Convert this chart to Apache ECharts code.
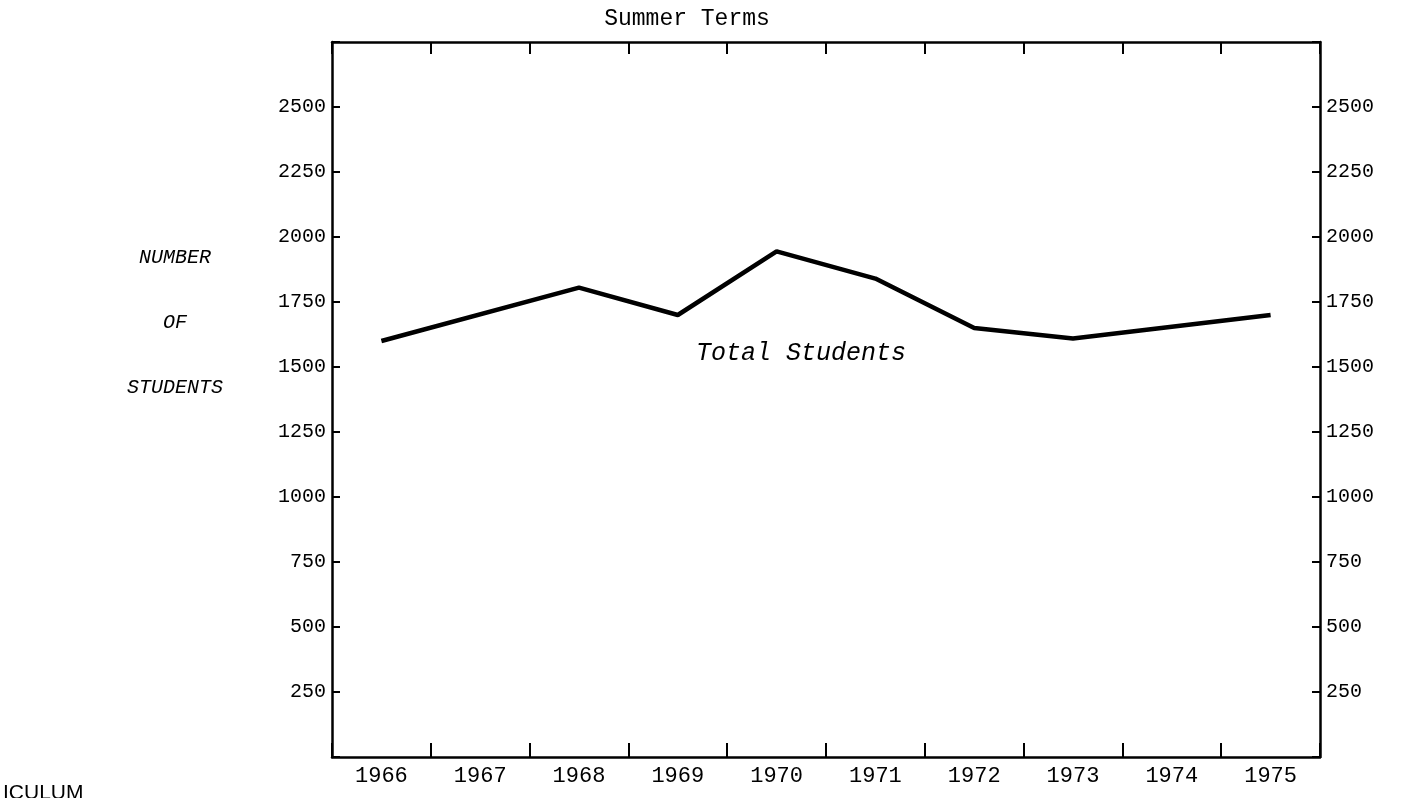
<!DOCTYPE html>
<html>
<head>
<meta charset="utf-8">
<script src="https://cdn.jsdelivr.net/npm/echarts@6/dist/echarts.min.js"></script>
<style>html,body{margin:0;padding:0;background:#fff}#c{width:1416px;height:798px}</style>
</head>
<body>
<div id="c"></div>
<script>
var years = ['1966','1967','1968','1969','1970','1971','1972','1973','1974','1975'];
var totalStudents = [1600, null, 1805, 1700, 1945, 1840, 1650, 1610, null, 1700];
var yTicks = [250, 500, 750, 1000, 1250, 1500, 1750, 2000, 2250, 2500];
var titleText = 'Summer Terms';
var yName = 'NUMBER\nOF\nSTUDENTS';
var seriesLabel = 'Total Students';
var cutText = 'ICULUM';

var mono = '"Liberation Mono", "DejaVu Sans Mono", monospace';
var lineStyle = {color: '#000', width: 2.5};
function yFmt(v){ return yTicks.indexOf(v) >= 0 ? String(v) : ''; }

var chart = echarts.init(document.getElementById('c'));
chart.setOption({
  backgroundColor: '#fff',
  animation: false,
  title: [
    {text: titleText, left: 682, top: 2, textAlign: 'center',
     textStyle: {fontFamily: mono, fontSize: 23, fontWeight: 'normal', color: '#000'}},
    {text: yName, left: 170, top: 220, textAlign: 'center',
     textStyle: {fontFamily: mono, fontSize: 20, fontStyle: 'italic', fontWeight: 'normal', color: '#000', lineHeight: 65, align: 'center'}},
    {text: seriesLabel, left: 796, top: 336, textAlign: 'center',
     textStyle: {fontFamily: mono, fontSize: 25, fontStyle: 'italic', fontWeight: 'normal', color: '#000'}},
    {text: cutText, left: -2, top: 778,
     textStyle: {fontFamily: '"Liberation Sans", Arial, sans-serif', fontSize: 21, fontWeight: 'normal', color: '#000'}}
  ],
  grid: {left: 332, right: 96, top: 42, bottom: 41},
  xAxis: [
    {type: 'category', data: years, position: 'bottom', boundaryGap: true,
     axisLine: {show: true, onZero: false, lineStyle: lineStyle},
     axisTick: {show: true, interval: 0, inside: true, length: 14, lineStyle: {color: '#000', width: 2}},
     axisLabel: {fontFamily: mono, fontSize: 22, color: '#000', margin: 8, interval: 0}},
    {type: 'category', data: years, position: 'top', boundaryGap: true,
     axisLine: {show: true, onZero: false, lineStyle: lineStyle},
     axisTick: {show: true, interval: 0, inside: true, length: 12, lineStyle: {color: '#000', width: 2}},
     axisLabel: {show: false}}
  ],
  yAxis: [
    {type: 'value', min: 0, max: 2750, interval: 250, position: 'left',
     splitLine: {show: false},
     axisLine: {show: true, onZero: false, lineStyle: lineStyle},
     axisTick: {show: true, inside: true, length: 8, lineStyle: {color: '#000', width: 2}},
     axisLabel: {fontFamily: mono, fontSize: 20, color: '#000', margin: 6, formatter: yFmt}},
    {type: 'value', min: 0, max: 2750, interval: 250, position: 'right',
     splitLine: {show: false},
     axisLine: {show: true, onZero: false, lineStyle: lineStyle},
     axisTick: {show: true, inside: true, length: 8, lineStyle: {color: '#000', width: 2}},
     axisLabel: {fontFamily: mono, fontSize: 20, color: '#000', margin: 6, formatter: yFmt}}
  ],
  series: [
    {type: 'line', name: seriesLabel, data: totalStudents, connectNulls: true,
     showSymbol: false, symbol: 'none',
     lineStyle: {color: '#000', width: 4.5}}
  ]
});
</script>
</body>
</html>
